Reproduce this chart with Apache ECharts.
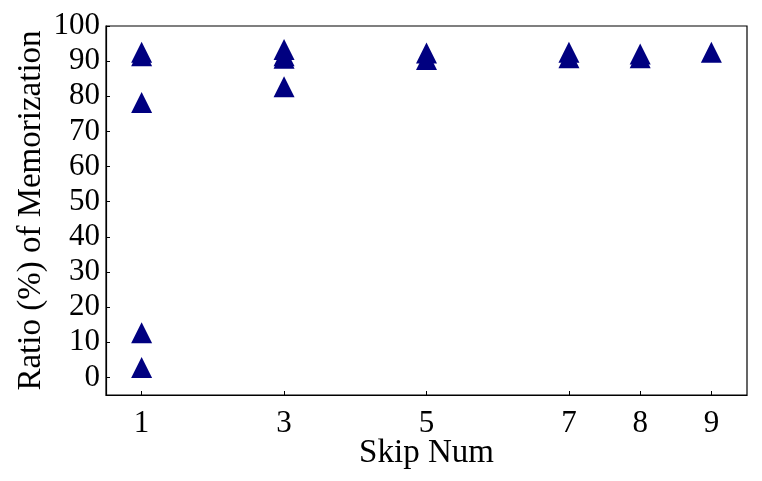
<!DOCTYPE html>
<html>
  <head>
    <title>Skip Num vs Memorization</title>
    <style type="text/css">
      html,
      body {
        width: 100%;
        height: 100%;
        margin: 0px;
        background: #fff;
      }

      #chart {
        width: 762px;
        height: 481px;
      }
    </style>
    <script type="text/javascript" src="https://cdn.jsdelivr.net/npm/echarts@6/dist/echarts.min.js"></script>
  </head>

  <body>
    <div id="chart"></div>
    <script>
      // values
      const skipNums = [1, 1, 1, 1, 1, 3, 3, 3, 3, 5, 5, 7, 7, 8, 8, 9];
      const ratios = [92.5, 91.5, 78.2, 12.7, 2.8, 93.3, 91.5, 90.8, 82.7, 92.3, 90.5, 92.5, 91.0, 92.0, 91.0, 92.5];
      const xTicks = [1, 3, 5, 7, 8, 9];
      const yTicks = [0, 10, 20, 30, 40, 50, 60, 70, 80, 90, 100];

      const points = skipNums.map((x, i) => [x, ratios[i]]);
      const font = "Liberation Serif";

      // labels 35px apart get thinned by echarts, so split them over two stacked axes
      const yTicksEven = yTicks.filter((v, i) => i % 2 === 0);
      const yTicksOdd = yTicks.filter((v, i) => i % 2 === 1);

      const myChart = echarts.init(document.getElementById("chart"), null, {
        renderer: "canvas",
      });

      const labelStyle = {
        showMinLabel: true,
        showMaxLabel: true,
        hideOverlap: false,
        color: "#000",
        fontSize: 31,
        fontFamily: font,
        margin: 6,
      };

      const option = {
        animation: false,
        grid: {
          left: 106,
          right: 15,
          top: 26,
          bottom: 86,
          outerBoundsMode: "none",
          containLabel: false,
          show: true,
          borderColor: "#000",
          borderWidth: 1.2,
        },
        xAxis: {
          type: "value",
          min: 0.5,
          max: 9.5,
          name: "Skip Num",
          nameLocation: "middle",
          nameGap: 33,
          nameMoveOverlap: false,
          nameTextStyle: { color: "#000", fontSize: 33, fontFamily: font },
          axisLine: { onZero: false, lineStyle: { color: "#000", width: 1.2 } },
          axisTick: { inside: true, length: 4, customValues: xTicks, lineStyle: { color: "#000" } },
          axisLabel: { customValues: xTicks, color: "#000", fontSize: 31, fontFamily: font, margin: 5 },
          splitLine: { show: false },
        },
        yAxis: [
          {
            type: "value",
            position: "left",
            min: -5,
            max: 100,
            name: "Ratio (%) of Memorization",
            nameLocation: "middle",
            nameGap: 49,
            nameMoveOverlap: false,
            nameTextStyle: { color: "#000", fontSize: 33, fontFamily: font },
            axisLine: { show: true, onZero: false, lineStyle: { color: "#000", width: 1.2 } },
            axisTick: { show: true, inside: true, length: 4, customValues: yTicks, lineStyle: { color: "#000" } },
            axisLabel: Object.assign({ customValues: yTicksEven }, labelStyle),
            splitLine: { show: false },
          },
          {
            type: "value",
            position: "left",
            offset: 0,
            min: -5,
            max: 100,
            axisLine: { show: false, onZero: false },
            axisTick: { show: false },
            axisLabel: Object.assign({ customValues: yTicksOdd }, labelStyle),
            splitLine: { show: false },
          },
        ],
        series: [
          {
            type: "scatter",
            yAxisIndex: 0,
            data: points,
            symbol: "triangle",
            symbolSize: [21, 21],
            itemStyle: { color: "#000080", opacity: 1 },
          },
        ],
      };

      myChart.setOption(option);
    </script>
  </body>
</html>
